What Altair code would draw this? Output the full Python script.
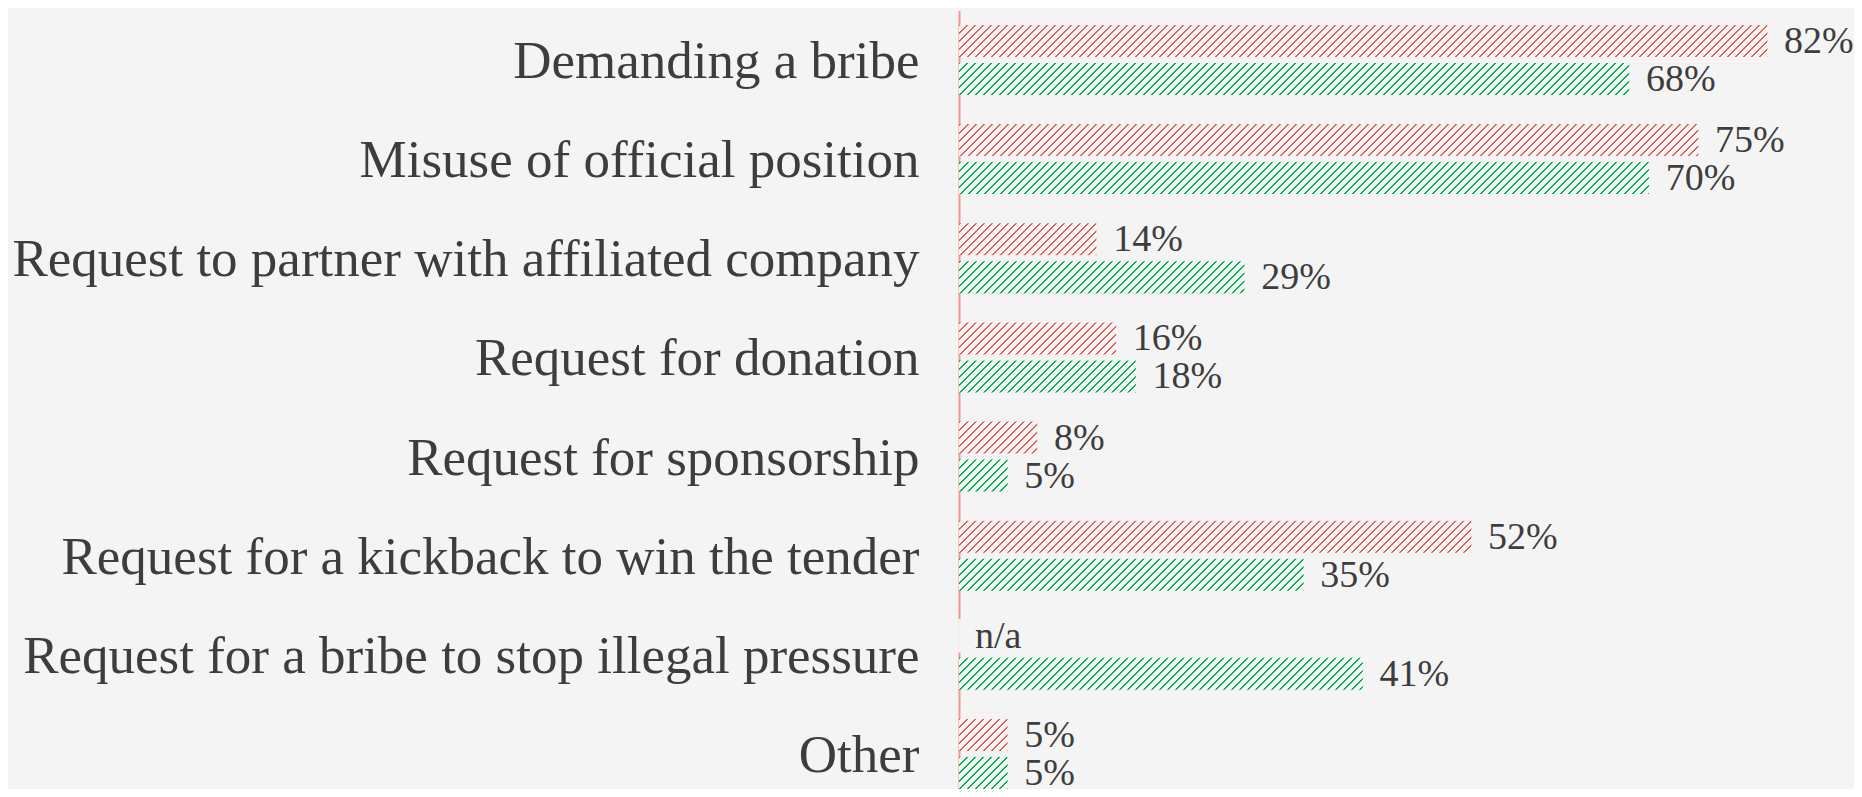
import altair as alt
import pandas as pd

# ---- data -------------------------------------------------------------
categories = [
    "Demanding a bribe",
    "Misuse of official position",
    "Request to partner with affiliated company",
    "Request for donation",
    "Request for sponsorship",
    "Request for a kickback to win the tender",
    "Request for a bribe to stop illegal pressure",
    "Other",
]
series = ["Earlier survey", "Later survey"]
red_values = [82, 75, 14, 16, 8, 52, None, 5]
green_values = [68, 70, 29, 18, 5, 35, 41, 5]

# ---- style --------------------------------------------------------------
BG = "#f4f4f4"
RED = "#e0605a"
GREEN = "#00b050"
TEXT = "#3d3d3d"
AXIS = "#f2998a"
FONT = "Liberation Serif"

PLOT_W = 888
PLOT_H = 779
X_MAX = 90
BAR_H = 32
STEP = 99.14
Y0 = 0.4

rows = []
for c, r, g in zip(categories, red_values, green_values):
    rows.append({"category": c, "series": series[0], "value": r})
    rows.append({"category": c, "series": series[1], "value": g})
df = pd.DataFrame(rows)
df["label"] = df["value"].apply(lambda v: "n/a" if pd.isna(v) else f"{int(v)}%")
df["pos"] = df["value"].fillna(0)


def hatch(color, W=PLOT_W, H=BAR_H, period=8.0, thick=2.0):
    """Diagonal '/' hatch as a linear gradient (bbox units)."""
    L = W + H
    k = L / (W * W + H * H)
    stops = []
    i = 0
    while True:
        s = i * period / L
        if s >= 1:
            break
        e = min((i * period + thick) / L, 1.0)
        s = round(s, 6)
        e = round(e, 6)
        stops += [
            {"offset": s, "color": BG},
            {"offset": s, "color": color},
            {"offset": e, "color": color},
            {"offset": e, "color": BG},
        ]
        i += 1
    return {"gradient": "linear", "x1": 0, "y1": 0,
            "x2": round(W * k, 6), "y2": round(H * k, 6), "stops": stops}


y_enc = alt.Y(
    "category:N",
    sort=categories,
    scale=alt.Scale(range=[Y0, Y0 + len(categories) * STEP], paddingInner=0, paddingOuter=0),
    axis=alt.Axis(
        title=None,
        ticks=False,
        tickSize=0,
        grid=False,
        domain=True,
        domainColor=AXIS,
        domainWidth=2,
        labelFont=FONT,
        labelFontSize=53,
        labelColor=TEXT,
        labelPadding=40,
        labelLimit=1200,
        labelBaseline="alphabetic",
        labelOffset=18,
    ),
)
yoff_enc = alt.YOffset(
    "series:N",
    sort=series,
    scale=alt.Scale(domain=series, paddingInner=0.158, paddingOuter=0.3835),
)
x_scale = alt.Scale(domain=[0, X_MAX], nice=False, zero=True)

base = alt.Chart(df).encode(y=y_enc, yOffset=yoff_enc)

hatch_red = base.transform_filter(alt.datum.series == series[0]).mark_bar(
    fill=hatch(RED)
).encode(
    x=alt.X(datum=0, scale=x_scale, axis=None, type="quantitative"),
    x2=alt.datum(X_MAX),
)
hatch_green = base.transform_filter(alt.datum.series == series[1]).mark_bar(
    fill=hatch(GREEN)
).encode(
    x=alt.X(datum=0, scale=x_scale, axis=None, type="quantitative"),
    x2=alt.datum(X_MAX),
)

# plain background-coloured bar hides the hatch beyond each value
cover = base.mark_bar(fill=BG, stroke=BG, strokeWidth=1.5).encode(
    x=alt.X("pos:Q", scale=x_scale, axis=None),
    x2=alt.datum(X_MAX),
)

labels = base.mark_text(
    align="left",
    baseline="alphabetic",
    dx=16,
    dy=12,
    font=FONT,
    fontSize=38,
    color=TEXT,
).encode(
    x=alt.X("pos:Q", scale=x_scale, axis=None),
    text="label:N",
)

chart = (
    alt.layer(hatch_red, hatch_green, cover, labels)
    .properties(
        width=PLOT_W,
        height=PLOT_H,
        background=BG,
        padding={"left": 951, "top": 2, "right": 7, "bottom": 0},
        autosize=alt.AutoSizeParams(type="none"),
    )
    .configure_view(stroke=None)
)

chart.save("out.html", embed_options={"renderer": "svg", "actions": False})
